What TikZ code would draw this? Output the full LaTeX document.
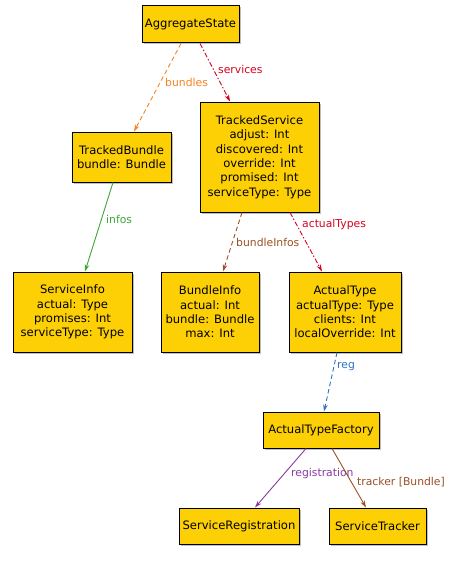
\documentclass[tikz,border=0pt]{standalone}
\usepackage{fontspec}
\setmainfont{DejaVu Sans}
\usetikzlibrary{arrows.meta}
\definecolor{boxfill}{HTML}{FDD006}
\definecolor{corange}{HTML}{F5821F}
\definecolor{cred}{HTML}{D8001E}
\definecolor{cgreen}{HTML}{3FA535}
\definecolor{cbrown}{HTML}{9A4F24}
\definecolor{cblue}{HTML}{2E72C0}
\definecolor{cpurple}{HTML}{8B3A9E}
\tikzset{
  cls/.style={draw=black, line width=1pt, fill=boxfill, align=center, inner sep=0pt,
    font=\fontsize{11.6}{14.4}\selectfont},
  edge/.style={-{Stealth[length=7pt,width=4.5pt]}, line width=0.9pt},
  lab/.style={font=\fontsize{10.8}{13}\selectfont, inner sep=1pt, anchor=west},
  dsh/.style={dash pattern=on 4.5pt off 3pt},
  dshdot/.style={dash pattern=on 5pt off 2pt on 1.5pt off 2pt},
}
\newcommand{\clsbox}[6]{% name, x1,y1,x2,y2, text
  \fill[black!25] (#2+1.5,#3+1.5) rectangle (#4+1.5,#5+1.5);
  \node[cls, minimum width=#4-#2, minimum height=#5-#3] (#1) at ({(#2+#4)/2},{(#3+#5)/2}) {#6};
}
\begin{document}
\begin{tikzpicture}[x=1pt,y=-1pt]
\useasboundingbox (0,0) rectangle (452,578);
\clsbox{agg}{142}{6}{239}{43}{AggregateState}
\clsbox{tb}{72}{132}{171}{182}{TrackedBundle\\bundle: Bundle}
\clsbox{ts}{200}{102}{319}{212}{TrackedService\\adjust: Int\\discovered: Int\\override: Int\\promised: Int\\serviceType: Type}
\clsbox{si}{13}{272}{132}{352}{ServiceInfo\\actual: Type\\promises: Int\\serviceType: Type}
\clsbox{bi}{161}{272}{259}{352}{BundleInfo\\actual: Int\\bundle: Bundle\\max: Int}
\clsbox{at}{289}{272}{401}{352}{ActualType\\actualType: Type\\clients: Int\\localOverride: Int}
\clsbox{atf}{263}{412}{379}{448}{ActualTypeFactory}
\clsbox{sr}{179}{508}{299}{544}{ServiceRegistration}
\clsbox{st}{329}{508}{426}{544}{ServiceTracker}

\draw[edge, corange, dsh] (agg.south -| 181,0) -- (tb.north -| 134,0);
\node[lab, text=corange] at (164,82) {bundles};
\draw[edge, cred, dshdot] (agg.south -| 200,0) -- (ts.north -| 230,0);
\node[lab, text=cred] at (217,69) {services};
\draw[edge, cgreen] (tb.south -| 113,0) -- (si.north -| 85,0);
\node[lab, text=cgreen] at (105,219) {infos};
\draw[edge, cbrown, dsh] (ts.south -| 242,0) -- (bi.north -| 223,0);
\node[lab, text=cbrown] at (235,242) {bundleInfos};
\draw[edge, cred, dshdot] (ts.south -| 290,0) -- (at.north -| 322,0);
\node[lab, text=cred] at (301,225) {actualTypes};
\draw[edge, cblue, dsh] (at.south -| 337,0) -- (atf.north -| 324,0);
\node[lab, text=cblue] at (336,367) {reg};
\draw[edge, cpurple] (atf.south -| 306,0) -- (sr.north -| 255,0);
\node[lab, text=cpurple] at (290,474) {registration};
\draw[edge, cbrown] (atf.south -| 332,0) -- (st.north -| 366,0);
\node[lab, text=cbrown] at (356,482) {tracker [Bundle]};
\end{tikzpicture}
\end{document}
